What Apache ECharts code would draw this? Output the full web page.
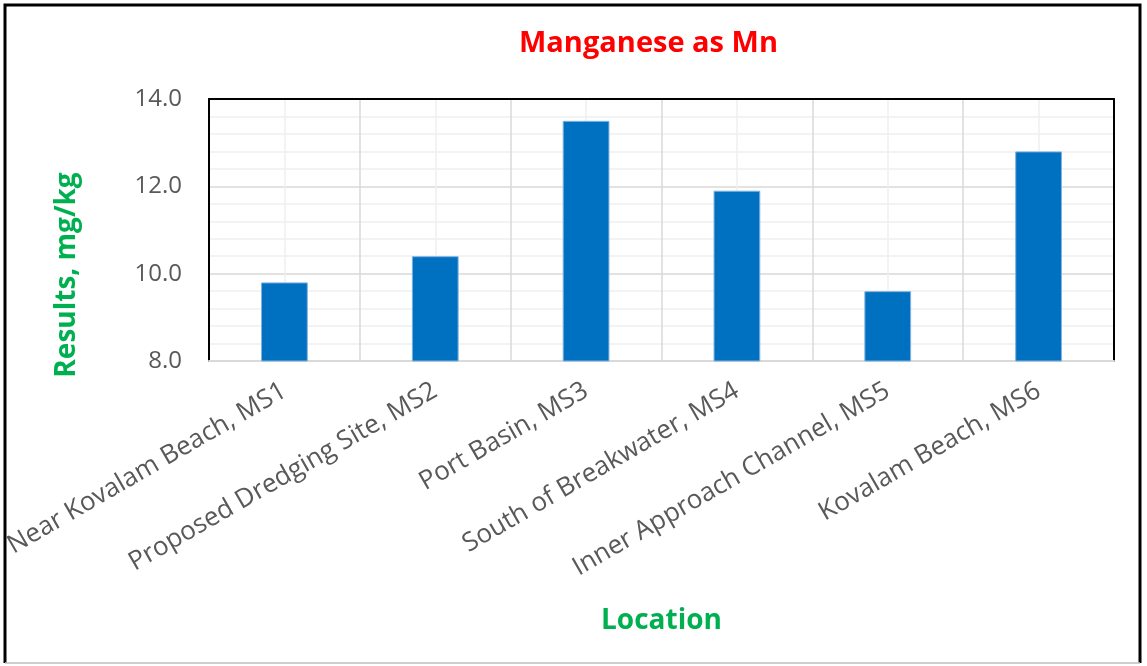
<!DOCTYPE html>
<html>
<head>
<meta charset="utf-8">
<script src="https://cdn.jsdelivr.net/npm/echarts@6/dist/echarts.min.js"></script>
<style>
html,body{margin:0;padding:0;background:#fff;}
#chart{width:1147px;height:666px;}
</style>
</head>
<body>
<div id="chart"></div>
<script>
const categories = [
  'Near Kovalam Beach, MS1',
  'Proposed Dredging Site, MS2',
  'Port Basin, MS3',
  'South of Breakwater, MS4',
  'Inner Approach Channel, MS5',
  'Kovalam Beach, MS6'
];
const manganeseValues = [9.8, 10.4, 13.5, 11.9, 9.6, 12.8];
const yTicks = { min: 8, max: 14, interval: 2 };
const titleText = 'Manganese as Mn';
const yAxisTitle = 'Results, mg/kg';
const xAxisTitle = 'Location';

const FONT = '"Open Sans", "Noto Sans", sans-serif';
const chart = echarts.init(document.getElementById('chart'), null, {renderer: 'canvas'});
chart.setOption({
  backgroundColor: '#fff',
  animation: false,
  title: {
    text: titleText,
    left: 514,
    top: 24,
    textStyle: {color: '#FF0000', fontWeight: 'bold', fontSize: 29, fontFamily: FONT}
  },
  graphic: [
    {type: 'polyline', shape: {points: [[5, 663], [5, 5], [1140, 5], [1140, 663]]},
     style: {stroke: '#000', lineWidth: 3, fill: null}, z: 100},
    {type: 'line', shape: {x1: 5, y1: 663, x2: 1140, y2: 663},
     style: {stroke: '#BFBFBF', lineWidth: 1.5}, z: 100}
  ],
  grid: {
    left: 209, right: 33, top: 99, bottom: 305,
    show: false
  },
  xAxis: [
    {
      type: 'category',
      data: categories,
      boundaryGap: true,
      axisLine: {show: true, lineStyle: {color: '#D9D9D9', width: 2}},
      axisTick: {show: false},
      splitLine: {show: true, interval: 0, lineStyle: {color: '#D9D9D9', width: 1.5}},
      axisLabel: {
        interval: 0, rotate: 30, color: '#595959', fontSize: 26, fontFamily: FONT, margin: 28
      },
      name: xAxisTitle,
      nameLocation: 'middle',
      nameGap: 246,
      nameTextStyle: {color: '#00B050', fontWeight: 'bold', fontSize: 28, fontFamily: FONT}
    },
    {
      type: 'value', min: 0, max: 6, interval: 1, position: 'top',
      axisLine: {show: true, lineStyle: {color: '#000', width: 2}},
      axisTick: {show: false}, axisLabel: {show: false},
      splitLine: {show: false},
      minorTick: {show: false, splitNumber: 2},
      minorSplitLine: {show: true, lineStyle: {color: '#F0F0F0', width: 1.5}}
    }
  ],
  yAxis: [
    {
      type: 'value',
      min: yTicks.min, max: yTicks.max, interval: yTicks.interval,
      axisLine: {show: true, lineStyle: {color: '#000', width: 2}},
      axisTick: {show: false},
      axisLabel: {
        color: '#595959', fontSize: 24, fontFamily: FONT, margin: 27,
        formatter: v => v.toFixed(1)
      },
      splitLine: {show: true, lineStyle: {color: '#D9D9D9', width: 1.5}},
      minorTick: {show: false, splitNumber: 5},
      minorSplitLine: {show: true, lineStyle: {color: '#F0F0F0', width: 1.5}},
      name: yAxisTitle,
      nameLocation: 'middle',
      nameGap: 128,
      nameTextStyle: {color: '#00B050', fontWeight: 'bold', fontSize: 28, fontFamily: FONT, padding: [0, 0, 0, -90]}
    },
    {
      type: 'value', position: 'right', min: 0, max: 1,
      axisLine: {show: true, lineStyle: {color: '#000', width: 2}},
      axisTick: {show: false}, axisLabel: {show: false}, splitLine: {show: false}
    }
  ],
  series: [{
    type: 'bar',
    data: manganeseValues,
    xAxisIndex: 0,
    yAxisIndex: 0,
    barWidth: '31%',
    itemStyle: {color: '#0070C0', borderColor: '#7FB2E0', borderWidth: 1},
    z: 5
  }]
});
</script>
</body>
</html>
